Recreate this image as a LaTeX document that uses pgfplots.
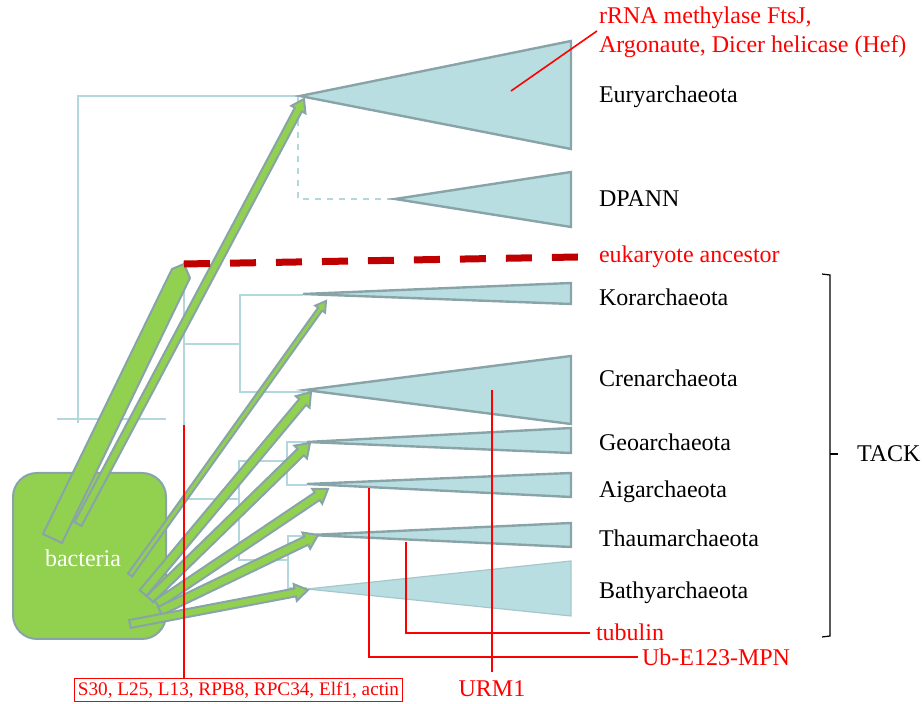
\documentclass[border=0pt]{standalone}
\usepackage{pgfplots}
\pgfplotsset{compat=1.18}
\usepackage{fontspec}
\setmainfont{Liberation Serif}

\definecolor{bactgreen}{RGB}{146,208,80}
\definecolor{edgegray}{RGB}{137,164,168}
\definecolor{cladefill}{RGB}{184,222,226}
\definecolor{treeblue}{RGB}{178,216,222}
\definecolor{darkred}{RGB}{192,0,0}

\pgfplotsset{
  clade/.style={fill=cladefill, draw=edgegray, line width=1.2pt, line join=miter},
  transfer/.style={fill=bactgreen, draw=edgegray, line width=1pt, line join=miter},
  tree/.style={draw=treeblue, line width=0.8pt},
  gene/.style={draw=red, line width=0.8pt},
}

\begin{document}
\begin{tikzpicture}
\begin{axis}[
  width=461pt, height=352pt, scale only axis,
  xmin=0, xmax=922, ymin=0, ymax=704, y dir=reverse,
  hide axis, clip=false,
  font=\fontsize{12}{14}\selectfont
]
% keep the full frame
\addplot[draw=none] coordinates {(0,0) (922,704)};

% tree backbone
\addplot[tree] coordinates {(57,419) (166,419)};
\addplot[tree] coordinates {(78,423) (78,96) (300,96)};
\addplot[tree, dashed] coordinates {(298,96) (298,199) (395,199)};
\addplot[tree] coordinates {(184,261) (184,425)};
\addplot[tree] coordinates {(184,344) (240,344)};
\addplot[tree] coordinates {(303,295) (240,295) (240,392) (305,392)};
\addplot[tree] coordinates {(185,499) (239,499)};
\addplot[tree] coordinates {(287,461) (239,461) (239,560) (288,560)};
\addplot[tree] coordinates {(307,442) (287,442) (287,485) (307,485)};
\addplot[tree] coordinates {(310,536) (288,536) (288,588) (307,588)};

% clades
\addplot[clade] coordinates {(300,96) (571,41) (571,149)} --cycle;
\addplot[clade] coordinates {(395,199) (571,172) (571,227)} --cycle;
\addplot[clade] coordinates {(303,294) (571,283) (571,304)} --cycle;
\addplot[clade] coordinates {(305,390) (571,356) (571,424)} --cycle;
\addplot[clade] coordinates {(307,442) (571,428) (571,453)} --cycle;
\addplot[clade] coordinates {(307,484) (571,473) (571,497)} --cycle;
\addplot[clade] coordinates {(310,535) (571,523) (571,547)} --cycle;
\addplot[fill=cladefill, draw=cladefill!60!edgegray, line width=0.6pt] coordinates {(307,589) (571,561) (571,616)} --cycle;

% bacteria
\addplot[fill=bactgreen, draw=edgegray, line width=1pt, rounded corners=12pt]
  coordinates {(90,473) (166,473) (166,639) (13,639) (13,473)} --cycle;
\node[text=white] at (axis cs:83,558) {bacteria};

% transfers
\addplot[transfer] coordinates {(43,534) (172,269) (184,264) (190,278) (62,543)} --cycle;
\addplot[transfer] coordinates {(81.53,525.88) (301.90,111.47) (305.43,113.35) (304,99)
  (291.31,105.83) (294.84,107.71) (74.47,522.12)} --cycle;
\addplot[transfer] coordinates {(132.03,576.45) (322.21,310.58) (325.06,312.62) (326,301)
  (315.30,305.64) (318.15,307.68) (127.97,573.55)} --cycle;
\addplot[transfer] coordinates {(146.45,595.89) (306.11,404.86) (309.57,407.74) (311,392)
  (295.75,396.20) (299.21,399.08) (139.55,590.11)} --cycle;
\addplot[transfer] coordinates {(153.14,602.22) (303.83,455.30) (306.97,458.52) (310,443)
  (294.41,445.64) (297.55,448.86) (146.86,595.78)} --cycle;
\addplot[transfer] coordinates {(159.51,607.73) (319.72,499.99) (322.23,503.73) (328,489)
  (312.19,488.79) (314.70,492.53) (154.49,600.27)} --cycle;
\addplot[transfer] coordinates {(161.95,615.06) (308.23,544.70) (310.18,548.75) (318,535)
  (302.38,532.53) (304.33,536.58) (158.05,606.94)} --cycle;
\addplot[transfer] coordinates {(130.75,627.93) (295.98,596.37) (296.82,600.79) (308,590)
  (293.64,584.09) (294.48,588.51) (129.25,620.07)} --cycle;

% eukaryote ancestor
\addplot[draw=darkred, line width=3.5pt, dash pattern=on 13pt off 10pt]
  coordinates {(184,264) (578,257)};

% gene markers
\addplot[gene] coordinates {(184,425) (184,678)};
\addplot[gene] coordinates {(492,390) (492,672)};
\addplot[gene] coordinates {(369,488) (369,657) (638,657)};
\addplot[gene] coordinates {(406,542) (406,633) (590,633)};
\addplot[gene] coordinates {(511,91) (597,31)};

% bracket
\addplot[black, line width=0.6pt] coordinates {(822,274) (830,275) (830,636) (822,637)};
\addplot[black, line width=0.6pt] coordinates {(830,454) (838,454)};

% labels
\node[anchor=west] at (axis cs:592,97) {Euryarchaeota};
\node[anchor=west] at (axis cs:592,199) {DPANN};
\node[anchor=west] at (axis cs:592,297) {Korarchaeota};
\node[anchor=west] at (axis cs:592,378) {Crenarchaeota};
\node[anchor=west] at (axis cs:592,442) {Geoarchaeota};
\node[anchor=west] at (axis cs:592,492) {Aigarchaeota};
\node[anchor=west] at (axis cs:592,538) {Thaumarchaeota};
\node[anchor=west] at (axis cs:592,593) {Bathyarchaeota};
\node[anchor=west] at (axis cs:850,454) {TACK};

\node[anchor=west, text=red] at (axis cs:592,18) {rRNA methylase FtsJ,};
\node[anchor=west, text=red] at (axis cs:592,47) {Argonaute, Dicer helicase (Hef)};
\node[anchor=west, text=red] at (axis cs:592,257) {eukaryote ancestor};
\node[anchor=west, text=red] at (axis cs:589,632) {tubulin};
\node[anchor=west, text=red] at (axis cs:635,657) {Ub-E123-MPN};
\node[text=red] at (axis cs:492,689) {URM1};
\node[text=red, draw=red, line width=0.5pt, inner sep=1.5pt,
  font=\fontsize{9.6}{11}\selectfont] at (axis cs:238.5,690) {S30, L25, L13, RPB8, RPC34, Elf1, actin};
\end{axis}
\pgfresetboundingbox
\path[use as bounding box] (0,0) rectangle (461pt,352pt);
\end{tikzpicture}
\end{document}
